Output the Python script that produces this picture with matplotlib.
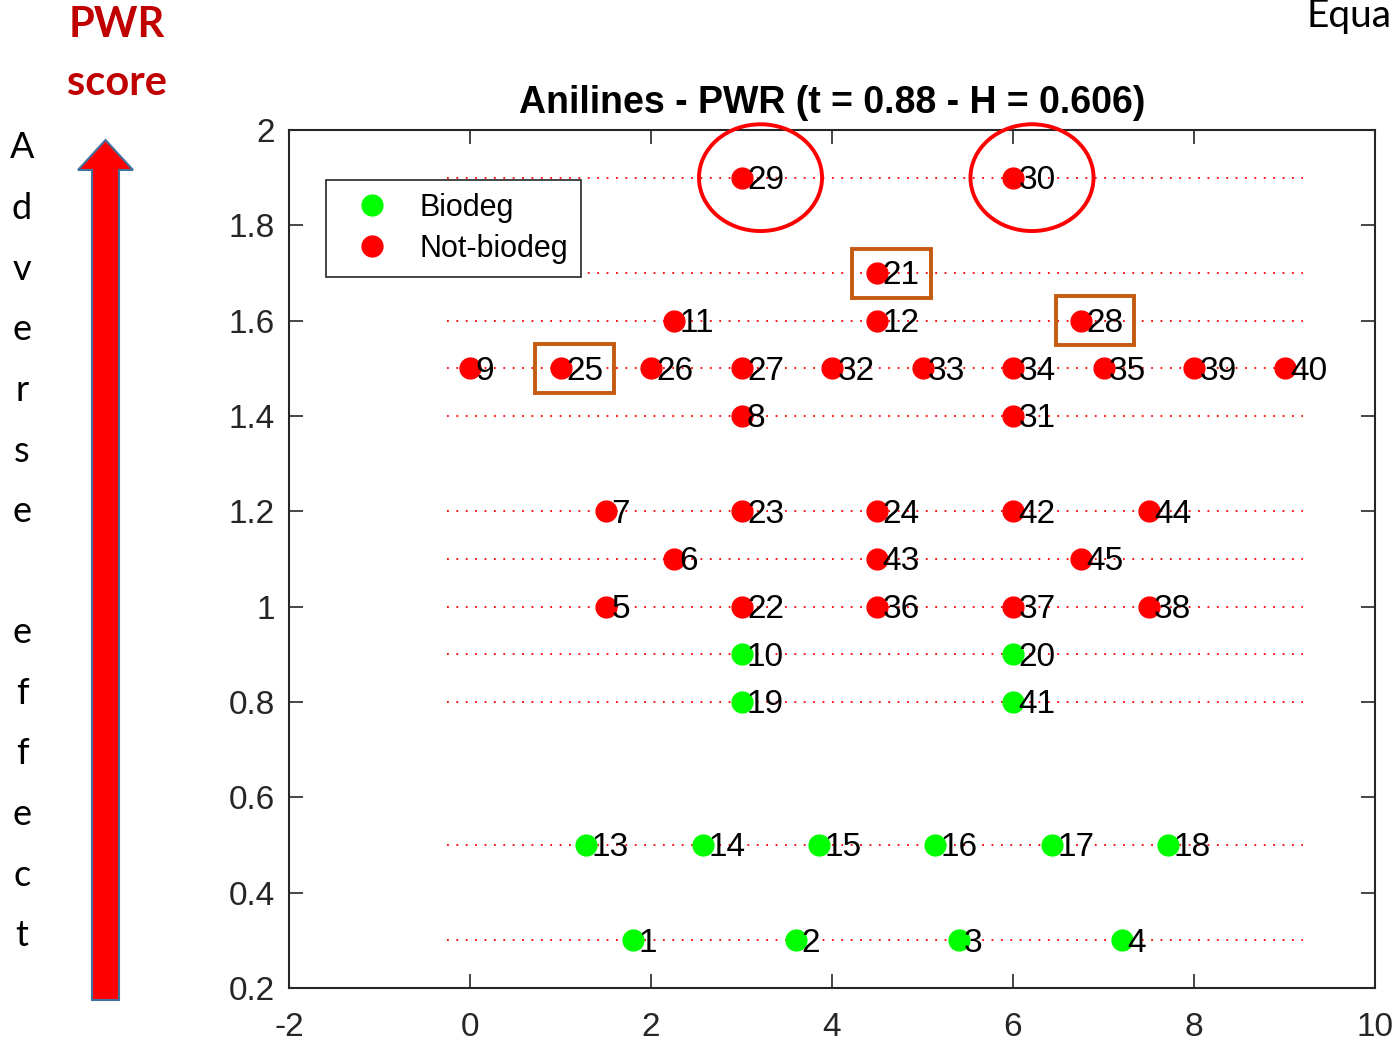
import numpy as np
import matplotlib
matplotlib.use("Agg")
import matplotlib.pyplot as plt
from matplotlib.patches import Ellipse, Rectangle, Polygon
from matplotlib.lines import Line2D

# biodegradable anilines: id, x position, PWR score
bio_id = [1, 2, 3, 4, 13, 14, 15, 16, 17, 18, 10, 20, 19, 41]
bio_x = [1.8, 3.6, 5.4, 7.2, 1.286, 2.571, 3.857, 5.143, 6.429, 7.714, 3, 6, 3, 6]
bio_y = [0.3, 0.3, 0.3, 0.3, 0.5, 0.5, 0.5, 0.5, 0.5, 0.5, 0.9, 0.9, 0.8, 0.8]

# not biodegradable anilines
nb_id = [29, 30, 21, 11, 12, 28, 9, 25, 26, 27, 32, 33, 34, 35, 39, 40,
         8, 31, 7, 23, 24, 42, 44, 6, 43, 45, 5, 22, 36, 37, 38]
nb_x = [3, 6, 4.5, 2.25, 4.5, 6.75, 0, 1, 2, 3, 4, 5, 6, 7, 8, 9,
        3, 6, 1.5, 3, 4.5, 6, 7.5, 2.25, 4.5, 6.75, 1.5, 3, 4.5, 6, 7.5]
nb_y = [1.9, 1.9, 1.7, 1.6, 1.6, 1.6, 1.5, 1.5, 1.5, 1.5, 1.5, 1.5, 1.5, 1.5, 1.5, 1.5,
        1.4, 1.4, 1.2, 1.2, 1.2, 1.2, 1.2, 1.1, 1.1, 1.1, 1.0, 1.0, 1.0, 1.0, 1.0]

circled = [29, 30]
boxed = [21, 28, 25]

W, H = 1393, 1041
fig = plt.figure(figsize=(W / 100, H / 100), dpi=100)
ax = fig.add_axes([289 / W, 1 - 988 / H, 1086 / W, 858 / H])

font = ["Liberation Sans", "DejaVu Sans"]
side = ["Lato", "DejaVu Sans"]
dark = "#262626"

# one dotted guide line per score level
for lev in sorted(set(bio_y + nb_y)):
    ax.plot([-0.25, 9.2], [lev, lev], color="red", lw=1.3, ls=(0, (1, 4.2)), zorder=1)

ax.plot(bio_x, bio_y, "o", color="#00ff00", ms=15, mec="#00ff00", zorder=3)
ax.plot(nb_x, nb_y, "o", color="#ff0000", ms=15, mec="#ff0000", zorder=3)

for i, x, y in zip(bio_id + nb_id, bio_x + nb_x, bio_y + nb_y):
    ax.text(x + 0.06, y - 0.006, str(i), fontsize=24, family=font,
            va="center", ha="left", zorder=4)

# highlight shapes
lookup = {i: (x, y) for i, x, y in zip(nb_id, nb_x, nb_y)}
for i in circled:
    x, y = lookup[i]
    ax.add_patch(Ellipse((x + 0.21, y), 1.36, 0.224, fill=False, ec="#ff0000",
                         lw=2.8, clip_on=False, zorder=5))
for i in boxed:
    x, y = lookup[i]
    ax.add_patch(Rectangle((x - 0.28, y - 0.052), 0.87, 0.103, fill=False,
                           ec="#c55a11", lw=2.8, clip_on=False, zorder=5))

ax.set_xlim(-2, 10)
ax.set_ylim(0.2, 2)
xt = np.arange(-2, 11, 2)
yt = np.round(np.arange(0.2, 2.01, 0.2), 1)
ax.set_xticks(xt)
ax.set_yticks(yt)
ax.set_xticklabels([f"{v:g}" for v in xt])
ax.set_yticklabels([f"{v:g}" for v in yt])
ax.tick_params(direction="in", length=10, width=1.2, colors=dark, labelsize=24,
               top=True, right=True, pad=10)
ax.tick_params(axis="x", pad=17)
for lab in ax.get_xticklabels() + ax.get_yticklabels():
    lab.set_family(font)
for sp in ax.spines.values():
    sp.set_color(dark)
    sp.set_linewidth(1.5)

ax.set_title("Anilines - PWR (t = 0.88 - H = 0.606)", fontsize=27,
             fontweight="bold", family=font, pad=12)

handles = [Line2D([], [], ls="", marker="o", ms=15, color="#00ff00"),
           Line2D([], [], ls="", marker="o", ms=15, color="#ff0000")]
leg = ax.legend(handles, ["Biodeg", "Not-biodeg"], loc="upper left",
                bbox_to_anchor=(326 / W, 1 - 180 / H), bbox_transform=fig.transFigure,
                borderaxespad=0, fancybox=False, framealpha=1, edgecolor=dark,
                prop={"family": font, "size": 22}, handletextpad=0.45,
                borderpad=0.42, labelspacing=0.36, handlelength=2.2)
leg.get_frame().set_linewidth(1.2)
leg.set_zorder(6)

# side annotations
fig.text(117 / W, 1 - 25 / H, "PWR", color="#c00000", fontsize=30, fontweight="bold",
         family=side, ha="center", va="center")
fig.text(117 / W, 1 - 83 / H, "score", color="#c00000", fontsize=30, fontweight="bold",
         family=side, ha="center", va="center")

for k, ch in enumerate("Adverse effect"):
    if ch != " ":
        fig.text(22 / W, 1 - (148 + k * 60.6) / H, ch, fontsize=26,
                 family=side, ha="center", va="center")

fig.text(1392 / W, 1 - 27 / H, "Equa", fontsize=28,
         family=side, ha="right", va="baseline")

arrow = [(92, 1000), (119, 1000), (119, 170), (133, 170), (105.5, 140),
         (78, 170), (92, 170)]
fig.patches.append(Polygon([(x / W, 1 - y / H) for x, y in arrow], closed=True,
                           transform=fig.transFigure, fc="#ff0000", ec="#41719c",
                           lw=1.5))

fig.savefig("out.png", dpi=100)
